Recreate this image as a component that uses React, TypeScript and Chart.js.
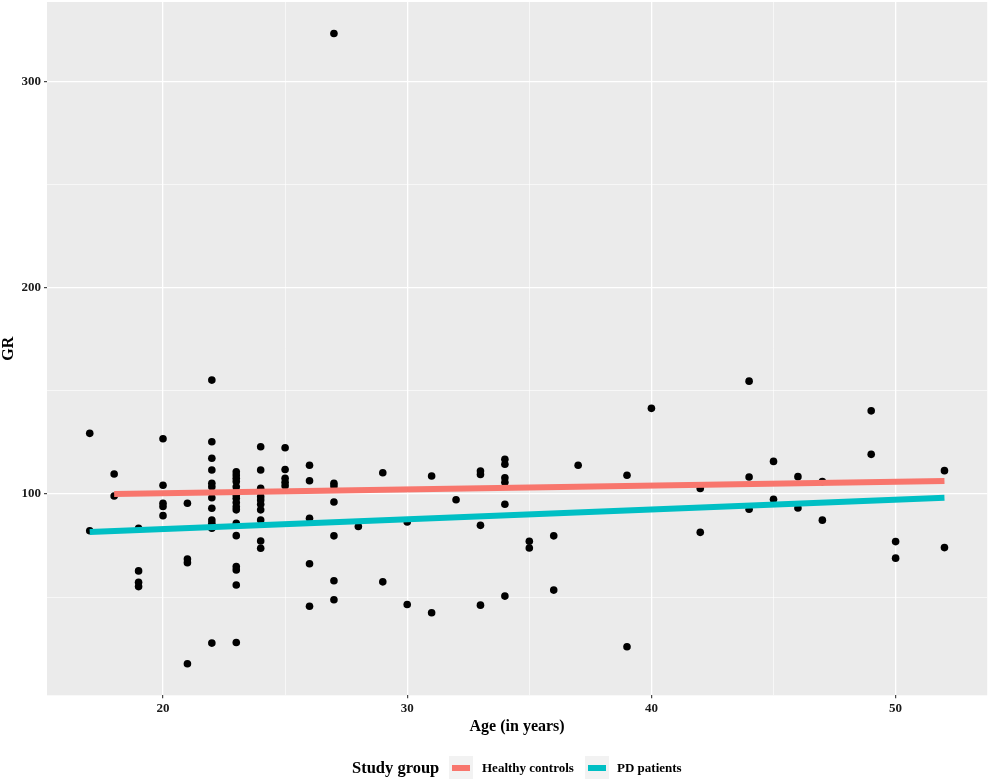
import { useEffect, useRef } from "react"
import { Chart, registerables } from "chart.js"

Chart.register(...registerables)

// Age (in years) of each subject and their GR value
const ages = [
  17, 17,
  18, 18,
  19, 19, 19, 19,
  20, 20, 20, 20, 20,
  21, 21, 21, 21,
  22, 22, 22, 22, 22, 22, 22, 22, 22, 22, 22, 22,
  23, 23, 23, 23, 23, 23, 23, 23, 23, 23, 23, 23, 23, 23, 23, 23, 23,
  24, 24, 24, 24, 24, 24, 24, 24, 24, 24, 24,
  25, 25, 25, 25, 25,
  26, 26, 26, 26, 26,
  27, 27, 27, 27, 27, 27, 27,
  28,
  29, 29,
  30, 30,
  31, 31,
  32,
  33, 33, 33, 33,
  34, 34, 34, 34, 34, 34,
  35, 35,
  36, 36,
  37,
  39, 39,
  40,
  42, 42,
  44, 44, 44,
  45, 45,
  46, 46,
  47, 47,
  49, 49,
  50, 50,
  52, 52,
]

const grValues = [
  129.4, 82.2,
  109.7, 99.0,
  83.4, 62.7, 57.2, 55.1,
  126.8, 104.2, 95.5, 93.9, 89.5,
  95.5, 68.5, 66.7, 17.7,
  155.2, 125.3, 117.3, 111.6, 105.2, 103.5, 98.2, 93.1, 87.4, 85.8, 83.4, 27.7,
  110.8, 109.2, 107.6, 106.0, 103.5, 101.1, 99.5, 97.9, 95.9, 93.8, 92.3, 85.8, 79.8, 64.8, 63.2, 55.9, 28.0,
  122.9, 111.6, 102.7, 101.1, 98.7, 97.1, 95.0, 92.3, 87.4, 77.2, 73.7,
  122.4, 111.9, 107.6, 105.7, 104.0,
  113.9, 106.4, 88.2, 66.2, 45.6,
  323.2, 105.2, 103.9, 96.1, 79.7, 57.9, 48.7,
  84.2,
  110.3, 57.4,
  86.4, 46.4,
  108.7, 42.4,
  97.2,
  111.1, 109.5, 84.8, 46.1,
  116.8, 114.4, 107.9, 105.7, 95.0, 50.5,
  77.1, 73.8,
  79.7, 53.4,
  113.9,
  109.1, 25.9,
  141.5,
  102.7, 81.4,
  154.7, 108.2, 92.6,
  115.8, 97.4,
  108.4, 93.2,
  106.0, 87.3,
  140.3, 119.2,
  76.9, 68.9,
  111.3, 74.0,
]

// Linear fits per study group (end points)
const healthyAges = [18, 52]
const healthyFit = [100.0, 106.3]
const pdAges = [17, 52]
const pdFit = [81.6, 98.2]

const groups = ["Healthy controls", "PD patients"]
const groupColors = ["#F8766D", "#00BFC4"]

const FONT = '"Liberation Serif", "Times New Roman", serif'

const panelBackground = {
  id: "panelBackground",
  beforeDraw(chart: Chart) {
    const { ctx, chartArea } = chart
    if (!chartArea) return
    ctx.save()
    ctx.fillStyle = "#EBEBEB"
    ctx.fillRect(chartArea.left, chartArea.top, chartArea.width, chartArea.height)
    ctx.restore()
  },
}

function GrChart() {
  const canvasRef = useRef<HTMLCanvasElement | null>(null)
  const chartRef = useRef<Chart | null>(null)

  useEffect(() => {
    document.body.style.margin = "0"
    if (!canvasRef.current) return
    const ctx = canvasRef.current.getContext("2d")
    if (!ctx) return
    chartRef.current?.destroy()

    const points = ages.map((a, i) => ({ x: a, y: grValues[i] }))
    const fitLine = (xs: number[], ys: number[]) => xs.map((x, i) => ({ x, y: ys[i] }))

    chartRef.current = new Chart(ctx, {
      type: "scatter",
      data: {
        datasets: [
          {
            label: groups[0],
            data: fitLine(healthyAges, healthyFit),
            showLine: true,
            borderColor: groupColors[0],
            backgroundColor: groupColors[0],
            borderWidth: 6,
            borderCapStyle: "butt",
            pointRadius: 0,
            order: 0,
          },
          {
            label: groups[1],
            data: fitLine(pdAges, pdFit),
            showLine: true,
            borderColor: groupColors[1],
            backgroundColor: groupColors[1],
            borderWidth: 6,
            borderCapStyle: "butt",
            pointRadius: 0,
            order: 0,
          },
          {
            label: "GR",
            data: points,
            backgroundColor: "#000000",
            borderWidth: 0,
            pointRadius: 3.8,
            order: 1,
          },
        ],
      },
      options: {
        animation: false,
        responsive: true,
        maintainAspectRatio: false,
        layout: { padding: { left: 0, right: 0, top: 0, bottom: 46 } },
        plugins: {
          legend: { display: false },
          tooltip: { enabled: false },
        },
        scales: {
          x: {
            type: "linear",
            min: 15.25,
            max: 53.75,
            border: { display: false },
            grid: {
              color: "#FFFFFF",
              lineWidth: (c: any) => (c.tick && c.tick.value % 10 === 0 ? 1.3 : 0.6),
              tickLength: 3,
              tickColor: (c: any) => (c.tick && c.tick.value % 10 === 0 ? "#333333" : "rgba(0,0,0,0)"),
              tickWidth: 1.1,
            },
            ticks: {
              stepSize: 5,
              includeBounds: false,
              maxRotation: 0,
              autoSkip: false,
              padding: 3,
              color: "#1a1a1a",
              font: { family: FONT, size: 13, weight: "bold" },
              callback: (v: any) => (Number(v) % 10 === 0 ? String(v) : ""),
            },
            title: {
              display: true,
              text: "Age (in years)",
              color: "#000000",
              padding: 0,
              font: { family: FONT, size: 16, weight: "bold", lineHeight: 1.2 },
            },
            afterFit: (scale: any) => {
              scale.height = 41
              scale.paddingLeft = 0
              scale.paddingRight = 0
            },
          },
          y: {
            type: "linear",
            min: 2.4,
            max: 338.5,
            border: { display: false },
            grid: {
              color: "#FFFFFF",
              lineWidth: (c: any) => (c.tick && c.tick.value % 100 === 0 ? 1.3 : 0.6),
              tickLength: 3,
              tickColor: (c: any) => (c.tick && c.tick.value % 100 === 0 ? "#333333" : "rgba(0,0,0,0)"),
              tickWidth: 1.1,
            },
            ticks: {
              stepSize: 50,
              includeBounds: false,
              autoSkip: false,
              padding: 3,
              color: "#1a1a1a",
              font: { family: FONT, size: 13, weight: "bold" },
              callback: (v: any) => (Number(v) % 100 === 0 ? String(v) : ""),
            },
            title: {
              display: true,
              text: "GR",
              color: "#000000",
              padding: 0,
              font: { family: FONT, size: 16, weight: "bold", lineHeight: 1.1 },
            },
            afterFit: (scale: any) => {
              scale.width = 47
              scale.paddingTop = 0
              scale.paddingBottom = 0
            },
          },
        },
      },
      plugins: [panelBackground],
    })

    return () => {
      chartRef.current?.destroy()
      chartRef.current = null
    }
  }, [])

  // Chart.js keeps a few px of edge padding no matter what; nudge the canvas
  // so the panel sits against the top edge like the ggplot original.
  return (
    <div style={{ position: "absolute", left: 0, top: -2.3, width: 991.2, height: 784.3 }}>
      <canvas ref={canvasRef} />
    </div>
  )
}

function Legend() {
  const keyStyle = (left: number) => ({
    position: "absolute" as const,
    left,
    top: 756,
    width: 24,
    height: 23,
    background: "#F2F2F2",
  })
  const lineStyle = (color: string) => ({
    position: "absolute" as const,
    left: 3,
    right: 3,
    top: 8.5,
    height: 6,
    background: color,
  })
  const labelStyle = (left: number) => ({
    position: "absolute" as const,
    left,
    top: 759,
    fontFamily: FONT,
    fontWeight: "bold" as const,
    fontSize: 13,
    lineHeight: "17px",
    color: "#000",
    whiteSpace: "nowrap" as const,
  })
  return (
    <>
      <div
        style={{
          position: "absolute",
          left: 352,
          top: 757,
          fontFamily: FONT,
          fontWeight: "bold",
          fontSize: 16.5,
          lineHeight: "21px",
          color: "#000",
          whiteSpace: "nowrap",
        }}
      >
        Study group
      </div>
      <div style={keyStyle(449)}>
        <div style={lineStyle(groupColors[0])} />
      </div>
      <div style={labelStyle(482)}>{groups[0]}</div>
      <div style={keyStyle(585)}>
        <div style={lineStyle(groupColors[1])} />
      </div>
      <div style={labelStyle(617)}>{groups[1]}</div>
    </>
  )
}

export default function App() {
  return (
    <div
      style={{
        position: "relative",
        width: 990,
        height: 782,
        overflow: "hidden",
        background: "#FFFFFF",
      }}
    >
      <GrChart />
      <Legend />
    </div>
  )
}
